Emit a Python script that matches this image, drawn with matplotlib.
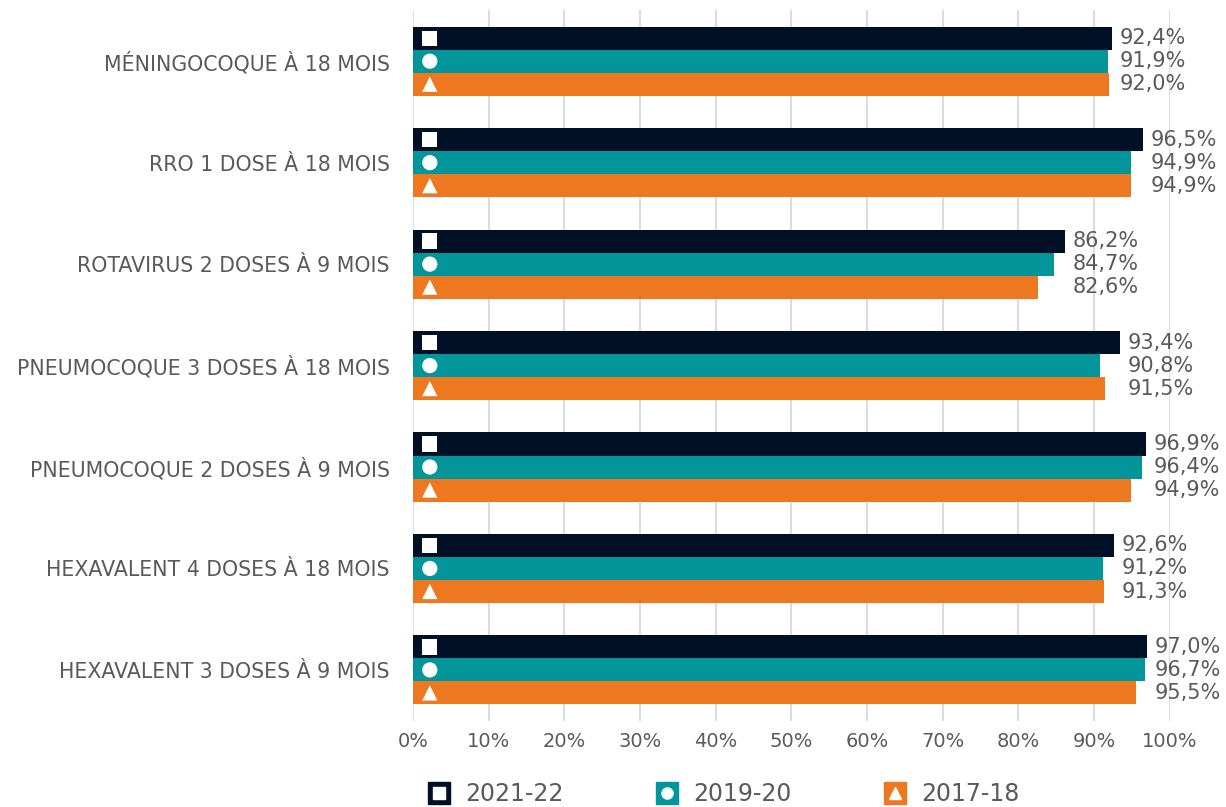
import matplotlib
matplotlib.use('Agg')
import matplotlib.pyplot as plt
from matplotlib.lines import Line2D
from matplotlib.legend_handler import HandlerTuple
import numpy as np

# ============== 数据 ==============
categories = [
    'MÉNINGOCOQUE À 18 MOIS',
    'RRO 1 DOSE À 18 MOIS',
    'ROTAVIRUS 2 DOSES À 9 MOIS',
    'PNEUMOCOQUE 3 DOSES À 18 MOIS',
    'PNEUMOCOQUE 2 DOSES À 9 MOIS',
    'HEXAVALENT 4 DOSES À 18 MOIS',
    'HEXAVALENT 3 DOSES À 9 MOIS',
]
series_names = ['2021-22', '2019-20', '2017-18']
v_2021 = [92.4, 96.5, 86.2, 93.4, 96.9, 92.6, 97.0]
v_2019 = [91.9, 94.9, 84.7, 90.8, 96.4, 91.2, 96.7]
v_2017 = [92.0, 94.9, 82.6, 91.5, 94.9, 91.3, 95.5]
xticks = [0, 10, 20, 30, 40, 50, 60, 70, 80, 90, 100]

# ============== 样式 ==============
colors = ['#001026', '#02969b', '#ee781f']
markers = ['s', 'o', '^']
TEXT = '#5a5a5a'
GRID = '#d9d9d9'

fig = plt.figure(figsize=(12.26, 8.07), dpi=100, facecolor='white')
ax = fig.add_axes([0.337, 0.107, 0.617, 0.880])

y = np.arange(len(categories))
h = 0.227
offsets = [-h, 0, h]
all_vals = [v_2021, v_2019, v_2017]
group_max = np.max(np.array(all_vals), axis=0)  # 标签按组内最长条对齐

for vals, off, c, m in zip(all_vals, offsets, colors, markers):
    ax.barh(y + off, vals, height=h, color=c, zorder=2)
    ax.scatter([2.2] * len(vals), y + off, marker=m, s=120, color='white',
               edgecolors='none', zorder=3)
    for yi, v, gm in zip(y + off, vals, group_max):
        ax.annotate(f'{v:.1f}%'.replace('.', ','), (gm, yi), xytext=(5.5, 0),
                    textcoords='offset points', va='center', ha='left',
                    color=TEXT, fontsize=15)

ax.set_ylim(len(categories) - 0.5, -0.5)
ax.set_xlim(0, 100)
ax.set_yticks(y)
ax.set_yticklabels(categories)
ax.set_xticks(xticks)
ax.set_xticklabels([f'{t}%' for t in xticks])
ax.tick_params(axis='y', length=0, pad=17, labelsize=14.8, labelcolor=TEXT)
ax.tick_params(axis='x', length=0, pad=8, labelsize=14, labelcolor=TEXT)
ax.xaxis.grid(True, color=GRID, linewidth=1.3, zorder=0)
ax.set_axisbelow(True)
for s in ax.spines.values():
    s.set_visible(False)

# 图例：色块 + 白色标记
handles = []
for c, m in zip(colors, markers):
    bg = Line2D([], [], marker='s', markersize=16, color=c, linestyle='none')
    fg = Line2D([], [], marker=m, markersize=8, color='white', linestyle='none')
    handles.append((bg, fg))
fig.legend(handles, series_names, loc='center', bbox_to_anchor=(0.589, 0.016),
           ncol=3, frameon=False, fontsize=17, labelcolor=TEXT,
           handler_map={tuple: HandlerTuple(ndivide=1, pad=0)},
           columnspacing=3.8, handletextpad=0.5, handlelength=1.2,
           borderpad=0, borderaxespad=0)

fig.savefig('out.png', dpi=100, facecolor='white')
plt.close(fig)
